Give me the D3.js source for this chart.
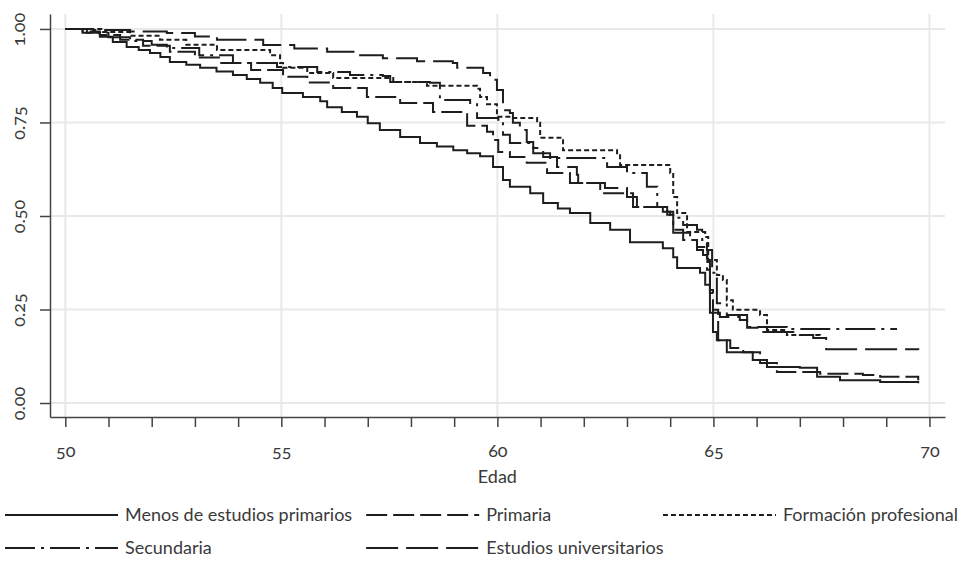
<!DOCTYPE html>
<html>
<head>
<meta charset="utf-8">
<script src="https://cdn.jsdelivr.net/npm/d3@7"></script>
<style>
  body { margin: 0; background: #fff; }
  text { font-family: Lato, "Open Sans", sans-serif; fill: #3a3a3a; font-variant-numeric: oldstyle-nums; }
</style>
</head>
<body>
<div id="chart"></div>
<script>
// tick labels and legend names
const xTicks = [50, 55, 60, 65, 70];
const xMinor = d3.range(50, 71, 1);
const yTicks = [0, 0.25, 0.5, 0.75, 1];
const names = ["Menos de estudios primarios", "Primaria", "Formación profesional", "Secundaria", "Estudios universitarios"];

// survival curves (age where the step starts, value)
const menosAge = [50.0, 50.4, 50.8, 51.1, 51.42, 51.7, 51.96, 52.2, 52.42, 52.8, 53.12, 53.5, 53.88, 54.2, 54.51, 54.8, 55.02, 55.5, 55.9, 56.06, 56.4, 56.75, 57.0, 57.28, 57.75, 58.21, 58.6, 58.98, 59.3, 59.6, 59.9, 60.13, 60.29, 60.76, 61.06, 61.4, 61.68, 62.15, 62.61, 63.07, 63.83, 64.07, 64.16, 64.69, 64.81, 64.92, 64.99, 65.08, 65.31, 65.91, 66.24, 67.0, 67.4, 67.93, 68.86, 69.74];
const menosSurv = [1.0, 0.99, 0.979, 0.965, 0.952, 0.944, 0.936, 0.925, 0.912, 0.904, 0.896, 0.886, 0.877, 0.866, 0.856, 0.842, 0.829, 0.818, 0.807, 0.791, 0.778, 0.765, 0.748, 0.73, 0.711, 0.695, 0.686, 0.676, 0.668, 0.66, 0.631, 0.596, 0.578, 0.561, 0.535, 0.52, 0.508, 0.481, 0.463, 0.43, 0.414, 0.39, 0.361, 0.348, 0.316, 0.241, 0.19, 0.168, 0.136, 0.115, 0.096, 0.094, 0.07, 0.061, 0.056, 0.053];

const primAge = [50.0, 50.4, 50.8, 51.27, 51.8, 52.42, 53.0, 53.58, 54.3, 55.04, 55.6, 56.2, 56.98, 57.75, 58.51, 59.3, 59.76, 59.9, 60.02, 60.29, 60.68, 61.15, 61.68, 62.38, 63.14, 63.93, 64.07, 64.3, 64.62, 64.86, 64.92, 64.99, 65.11, 65.39, 65.69, 66.08, 66.47, 67.47, 68.46, 68.86, 69.74];
const primSurv = [1.0, 0.993, 0.984, 0.971, 0.955, 0.939, 0.924, 0.909, 0.89, 0.872, 0.857, 0.842, 0.818, 0.802, 0.778, 0.741, 0.725, 0.703, 0.671, 0.658, 0.642, 0.615, 0.588, 0.561, 0.524, 0.503, 0.463, 0.436, 0.417, 0.377, 0.294, 0.249, 0.168, 0.147, 0.136, 0.107, 0.083, 0.078, 0.075, 0.07, 0.061];

const fpAge = [50.0, 50.87, 51.5, 52.19, 52.8, 53.51, 54.74, 54.97, 55.04, 55.6, 56.2, 57.59, 58.37, 59.53, 59.6, 59.76, 59.99, 60.36, 60.92, 60.99, 61.52, 62.77, 62.84, 64.0, 64.07, 64.16, 64.39, 64.81, 64.88, 65.08, 65.22, 65.31, 65.45, 66.08, 66.24, 66.7, 67.47];
const fpSurv = [1.0, 0.992, 0.982, 0.971, 0.958, 0.944, 0.93, 0.909, 0.896, 0.882, 0.869, 0.858, 0.848, 0.84, 0.818, 0.799, 0.765, 0.762, 0.749, 0.709, 0.676, 0.668, 0.636, 0.615, 0.551, 0.508, 0.457, 0.444, 0.382, 0.342, 0.329, 0.275, 0.249, 0.235, 0.195, 0.182, 0.179];

const secAge = [50.0, 50.5, 51.0, 51.5, 52.0, 52.35, 53.1, 53.88, 54.9, 55.83, 56.59, 57.35, 57.52, 58.44, 58.67, 59.37, 59.53, 60.02, 60.13, 60.29, 60.76, 60.83, 61.22, 62.54, 63.0, 63.46, 63.7, 63.93, 64.07, 64.3, 64.62, 64.74, 64.85, 64.97, 65.08, 65.31, 65.78, 66.7, 69.25];
const secSurv = [1.0, 0.99, 0.978, 0.968, 0.958, 0.949, 0.93, 0.909, 0.898, 0.885, 0.877, 0.874, 0.858, 0.856, 0.81, 0.799, 0.762, 0.757, 0.717, 0.695, 0.684, 0.668, 0.655, 0.631, 0.615, 0.578, 0.524, 0.511, 0.495, 0.476, 0.463, 0.436, 0.409, 0.348, 0.267, 0.235, 0.203, 0.198, 0.198];

const uniAge = [50.0, 50.64, 51.5, 52.35, 53.0, 53.51, 54.58, 55.3, 56.06, 56.7, 57.35, 58.14, 58.97, 59.07, 59.67, 59.83, 59.99, 60.13, 60.29, 60.36, 60.52, 60.68, 60.83, 61.06, 61.38, 61.84, 61.87, 62.49, 63.0, 63.23, 63.83, 64.0, 64.07, 64.46, 64.62, 64.76, 64.85, 64.92, 64.99, 65.15, 65.61, 65.78, 66.08, 67.0, 67.31, 67.61, 69.74];
const uniSurv = [1.0, 0.997, 0.993, 0.989, 0.98, 0.971, 0.957, 0.948, 0.939, 0.93, 0.922, 0.914, 0.909, 0.896, 0.882, 0.864, 0.837, 0.783, 0.775, 0.749, 0.73, 0.698, 0.682, 0.658, 0.631, 0.61, 0.588, 0.575, 0.551, 0.524, 0.511, 0.484, 0.455, 0.436, 0.409, 0.396, 0.356, 0.302, 0.241, 0.23, 0.222, 0.201, 0.19, 0.182, 0.174, 0.144, 0.142];

// line patterns per series
const dashes = [null, "21,6", "5,3", "30,6,3,6", "32,8"];

const series = [
  [menosAge, menosSurv],
  [primAge, primSurv],
  [fpAge, fpSurv],
  [secAge, secSurv],
  [uniAge, uniSurv],
].map(function (s, i) {
  return { name: names[i], dash: dashes[i], values: s[0].map(function (a, j) { return [a, s[1][j]]; }) };
});

const svg = d3
  .select("#chart")
  .append("svg")
  .attr("width", 963)
  .attr("height", 561);

const x = d3.scaleLinear().domain([49.646, 70.36]).range([50, 945]);
const y = d3.scaleLinear().domain([-0.0374, 1.04]).range([417, 14]);

// grid
svg
  .append("g")
  .selectAll("line")
  .data(xTicks)
  .join("line")
  .attr("x1", function (d) { return x(d); })
  .attr("x2", function (d) { return x(d); })
  .attr("y1", 14)
  .attr("y2", 417)
  .attr("stroke", "#e9e9e9")
  .attr("stroke-width", 2);
svg
  .append("g")
  .selectAll("line")
  .data(yTicks)
  .join("line")
  .attr("x1", 50)
  .attr("x2", 945)
  .attr("y1", function (d) { return y(d); })
  .attr("y2", function (d) { return y(d); })
  .attr("stroke", "#e9e9e9")
  .attr("stroke-width", 2);

// axes
const xAxis = svg
  .append("g")
  .attr("transform", "translate(0,417)")
  .call(
    d3.axisBottom(x)
      .tickValues(xMinor)
      .tickSize(10)
      .tickSizeOuter(0)
      .tickFormat(function (d) { return xTicks.includes(d) ? d : ""; })
  );
xAxis.selectAll("text").attr("dy", "1.5em").style("font-size", "18px");

const yAxis = svg
  .append("g")
  .attr("transform", "translate(50,0)")
  .call(d3.axisLeft(y).tickValues(yTicks).tickSize(10).tickSizeOuter(0).tickFormat(d3.format(".2f")));
yAxis
  .selectAll("text")
  .attr("x", 0)
  .attr("dy", 0)
  .attr("text-anchor", "middle")
  .attr("transform", "translate(-25,0) rotate(-90)")
  .style("font-size", "18px");

svg.selectAll(".domain, .tick line").attr("stroke", "#444").attr("stroke-width", 1.5);

svg
  .append("text")
  .attr("x", (x(50) + x(70)) / 2)
  .attr("y", 483)
  .attr("text-anchor", "middle")
  .style("font-size", "18px")
  .text("Edad");

// curves
const line = d3
  .line()
  .curve(d3.curveStepAfter)
  .x(function (d) { return x(d[0]); })
  .y(function (d) { return y(d[1]); });

svg
  .append("g")
  .selectAll("path")
  .data(series)
  .join("path")
  .attr("fill", "none")
  .attr("stroke", "#1e1e1e")
  .attr("stroke-width", 2)
  .attr("stroke-dasharray", function (d) { return d.dash; })
  .attr("d", function (d) { return line(d.values); });

// legend: three columns, last one pushed to the right edge
const legendRow = [515, 515, 515, 548, 548];
const legend = svg
  .append("g")
  .selectAll("g")
  .data(series)
  .join("g");
legend
  .append("line")
  .attr("x1", 0)
  .attr("x2", 113)
  .attr("stroke", "#1e1e1e")
  .attr("stroke-width", 2)
  .attr("stroke-dasharray", function (d) { return d.dash; });
legend
  .append("text")
  .attr("x", 120)
  .attr("dy", "0.35em")
  .style("font-size", "18px")
  .text(function (d) { return d.name; });

const w = legend.select("text").nodes().map(function (n) { return n.getComputedTextLength(); });
const col2 = 5 + 120 + w[0] + 14;
const col3 = 958 - 120 - w[2];
const legendX = [5, col2, col3, 5, col2];
legend.attr("transform", function (d, i) { return "translate(" + legendX[i] + "," + legendRow[i] + ")"; });
</script>
</body>
</html>
